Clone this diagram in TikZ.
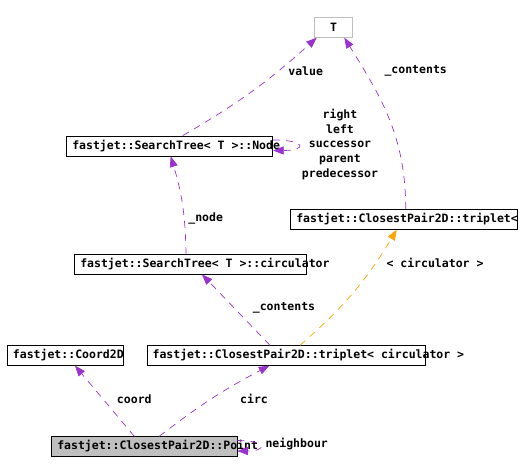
\documentclass[tikz,border=0pt]{standalone}
\usepackage{fontspec}
\setmonofont{DejaVu Sans Mono}
\usetikzlibrary{arrows.meta}
\definecolor{edgepurple}{HTML}{9A32CD}
\definecolor{edgeorange}{HTML}{FFA500}
\definecolor{boxgray}{HTML}{BFBFBF}
\begin{document}
\begin{tikzpicture}[x=1pt, y=-1pt,
    cls/.style={draw, rectangle, line width=0.8pt, inner sep=0pt},
    txt/.style={font=\ttfamily\bfseries\fontsize{11.5}{14.6}\selectfont, inner sep=0pt},
    dep/.style={draw=edgepurple, line width=0.7pt, dash pattern=on 7pt off 6pt,
      -{Triangle[length=10.5pt,width=8pt,fill=edgepurple]}},
    inst/.style={draw=edgeorange, line width=0.7pt, dash pattern=on 7pt off 6pt,
      -{Triangle[length=10.5pt,width=8pt,fill=edgeorange]}}]
    \useasboundingbox (0,0) rectangle (528,473);

    % class boxes
    \node[cls, draw=boxgray, minimum width=38.7pt, minimum height=20pt] (T) at (333.5,27.3) {};
    \node[txt] (Ttext) at (T.center) {T};
    \node[cls, minimum width=206pt, minimum height=20pt] (node) at (169.7,146) {};
    \node[cls, minimum width=227pt, minimum height=20pt] (tripT) at (404.2,219.3) {};
    \node[cls, minimum width=231.6pt, minimum height=19.7pt] (circ) at (190.5,264.2) {};
    \node[cls, minimum width=115.7pt, minimum height=19.6pt] (coord) at (65.2,355.5) {};
    \node[cls, minimum width=278pt, minimum height=19.6pt] (tripC) at (286,355.5) {};
    \node[cls, fill=boxgray, minimum width=185.3pt, minimum height=19.6pt] (point) at (144.3,446.5) {};

    \foreach \b/\t in {node/fastjet::SearchTree< T >::Node,
                       tripT/fastjet::ClosestPair2D::triplet<,
                       circ/fastjet::SearchTree< T >::circulator,
                       coord/fastjet::Coord2D,
                       tripC/fastjet::ClosestPair2D::triplet< circulator >,
                       point/fastjet::ClosestPair2D::Point}{
      \node[txt, anchor=west] (\b text) at ([xshift=5.8pt]\b.west) {\t};
    }

    % connectors
    \draw[dep] ([xshift=13pt]node.north) to[bend right=6] ([xshift=-16.8pt]T.south);
    \draw[dep] ([xshift=1.5pt]tripT.north) to[out=90, in=-58] ([xshift=10.8pt]T.south);
    \draw[dep] ([yshift=6pt]node.east) .. controls +(34,0) and +(34,0) .. ([yshift=-4.5pt]node.east);
    \draw[dep] ([xshift=-4.5pt]circ.north) to[bend right=8] ([xshift=1pt]node.south);
    \draw[dep] ([xshift=-16pt]tripC.north) -- ([xshift=11.5pt]circ.south);
    \draw[inst] ([xshift=14pt]tripC.north) to[bend right=9] ([xshift=-7.5pt]tripT.south);
    \draw[dep] ([xshift=-10pt]point.north) -- ([xshift=9.8pt]coord.south);
    \draw[dep] ([xshift=15pt]point.north) to[bend left=5] ([xshift=-16.7pt]tripC.south);
    \draw[dep] ([yshift=6pt]point.east) .. controls +(30,0) and +(30,0) .. ([yshift=-4.5pt]point.east);

    % edge labels
    \foreach \n/\x/\y/\t in {lvalue/305.7/71/value,
                             lcontT/415.7/71/\_contents,
                             lnode/205.7/218.3/\_node,
                             linst/435/262.7/< circulator >,
                             lcontC/284/308/\_contents,
                             lcoord/134.3/399/coord,
                             lcirc/254/399/circ,
                             lneigh/296.7/444/neighbour}{
      \node[txt] (\n) at (\x,\y) {\t};
    }
    \node[txt, align=center] (lself) at (340,144.5) {right\\left\\successor\\parent\\predecessor};
\end{tikzpicture}
\end{document}
